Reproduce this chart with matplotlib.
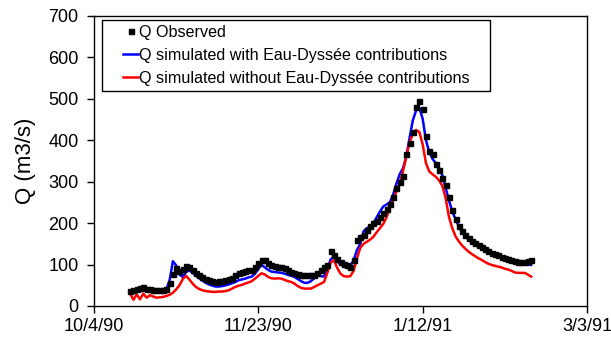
import numpy as np
import matplotlib
matplotlib.use("Agg")
import matplotlib.pyplot as plt
import matplotlib.dates as mdates
from matplotlib.ticker import FuncFormatter
from matplotlib.lines import Line2D
from matplotlib.legend_handler import HandlerLine2D
import datetime as dt

plt.rcParams['font.family'] = ['Liberation Sans', 'DejaVu Sans']

start_date = "1990-10-15"

q_observed = [
    36, 38, 40, 44, 46, 42, 40, 39, 38, 38, 38, 40, 55, 78, 92, 85, 90, 96, 95, 88,
    80, 74, 70, 66, 63, 60, 59, 60, 61, 62, 64, 68, 74, 80, 83, 85, 86, 88, 95, 104,
    112, 110, 103, 99, 97, 95, 93, 91, 86, 82, 79, 77, 76, 75, 75, 75, 76, 80, 86, 93,
    100, 132, 124, 114, 107, 101, 98, 95, 110, 160, 166, 172, 184, 194, 200, 205, 214, 224, 234, 246,
    264, 284, 300, 315, 368, 394, 420, 480, 496, 476, 410, 375, 368, 342, 328, 308, 292, 264, 232, 210,
    192, 181, 172, 164, 158, 152, 147, 142, 137, 133, 129, 126, 122, 119, 116, 113, 111, 109, 107, 106,
    107, 109, 110,
]

q_with = [
    32, 35, 38, 40, 37, 36, 35, 35, 35, 36, 38, 40, 62, 108, 98, 76, 70, 82, 86, 80,
    73, 67, 61, 56, 52, 49, 47, 47, 48, 50, 52, 55, 58, 62, 64, 66, 69, 71, 78, 90,
    99, 93, 87, 83, 82, 81, 80, 78, 75, 73, 70, 65, 60, 56, 56, 60, 67, 74, 72, 71,
    90, 112, 120, 108, 100, 96, 95, 97, 110, 135, 150, 180, 188, 190, 200, 214, 228, 240, 245, 250,
    268, 295, 318, 332, 360, 405, 448, 472, 478, 452, 400, 372, 355, 345, 333, 315, 285, 255, 228, 210,
    192, 178, 168, 160, 154, 149, 144, 140, 135, 131, 128, 125, 121, 118, 115, 112, 110, 108, 106, 104,
    102, 100, 99,
]

q_without = [
    30, 15, 28, 16, 30, 20, 26, 23, 20, 21, 22, 24, 27, 32, 40, 50, 65, 73, 64, 54,
    46, 41, 38, 36, 35, 34, 34, 35, 35, 36, 38, 42, 46, 49, 51, 54, 57, 60, 66, 73,
    79, 76, 70, 67, 66, 67, 66, 63, 60, 58, 54, 48, 44, 42, 42, 42, 46, 50, 54, 58,
    80, 105, 110, 92, 78, 72, 71, 72, 85, 115, 140, 150, 155, 160, 167, 178, 188, 198, 214, 235,
    256, 276, 296, 325, 360, 395, 415, 425, 420, 390, 345, 325, 318, 312, 303, 290, 260, 215, 188, 168,
    156, 146, 138, 131, 125, 120, 115, 111, 106, 102, 99, 97, 95, 93, 90, 88, 85, 81, 80, 80,
    80, 76, 71,
]

labels = ["Q Observed",
          "Q simulated with Eau-Dyssée contributions",
          "Q simulated without Eau-Dyssée contributions"]

dates = np.arange(np.datetime64(start_date), np.datetime64(start_date) + len(q_observed), dtype="datetime64[D]")
dates = dates.astype(object)

fig = plt.figure(figsize=(6.11, 3.39), dpi=100)
ax = fig.add_axes([94/611, 1-306/339, (587-94)/611, (306-16)/339])

ax.plot(dates, q_with, color="#0000ff", lw=1.8, label=labels[1], zorder=2)
ax.plot(dates, q_without, color="#ff0000", lw=1.8, label=labels[2], zorder=2)
ax.plot(dates, q_observed, ls="none", marker="s", ms=3.6, color="black", label=labels[0], zorder=3)

x0 = dt.date(1990, 10, 4)
x1 = dt.date(1991, 3, 3)
ax.set_xlim(x0, x1)
ax.set_xticks([x0 + dt.timedelta(days=50*i) for i in range(4)])
ax.xaxis.set_major_formatter(FuncFormatter(
    lambda v, p: (lambda d: f"{d.month}/{d.day}/{d.year % 100:02d}")(mdates.num2date(v))))
ax.set_ylim(0, 700)
ax.set_yticks(range(0, 701, 100))
ax.tick_params(direction="out", length=5, width=1, labelsize=13, colors="black")
ax.tick_params(axis="y", pad=6)
ax.set_ylabel("Q (m3/s)", fontsize=16, labelpad=9)
for s in ax.spines.values():
    s.set_linewidth(1)

h, l = ax.get_legend_handles_labels()
order = [2, 0, 1]
leg = ax.legend([h[i] for i in order], [l[i] for i in order], loc="upper left",
                bbox_to_anchor=(8/493, 1-4/290-0.3, 388/493, 0.3), mode="expand",
                borderaxespad=0, fontsize=11.6,
                frameon=True, fancybox=False, edgecolor="black", framealpha=1,
                handlelength=1.96, handletextpad=0.06, borderpad=0.3, labelspacing=0.5,
                handler_map={Line2D: HandlerLine2D(xpad=1.02)})
leg.get_frame().set_linewidth(1)

fig.savefig("out.png", dpi=100)
